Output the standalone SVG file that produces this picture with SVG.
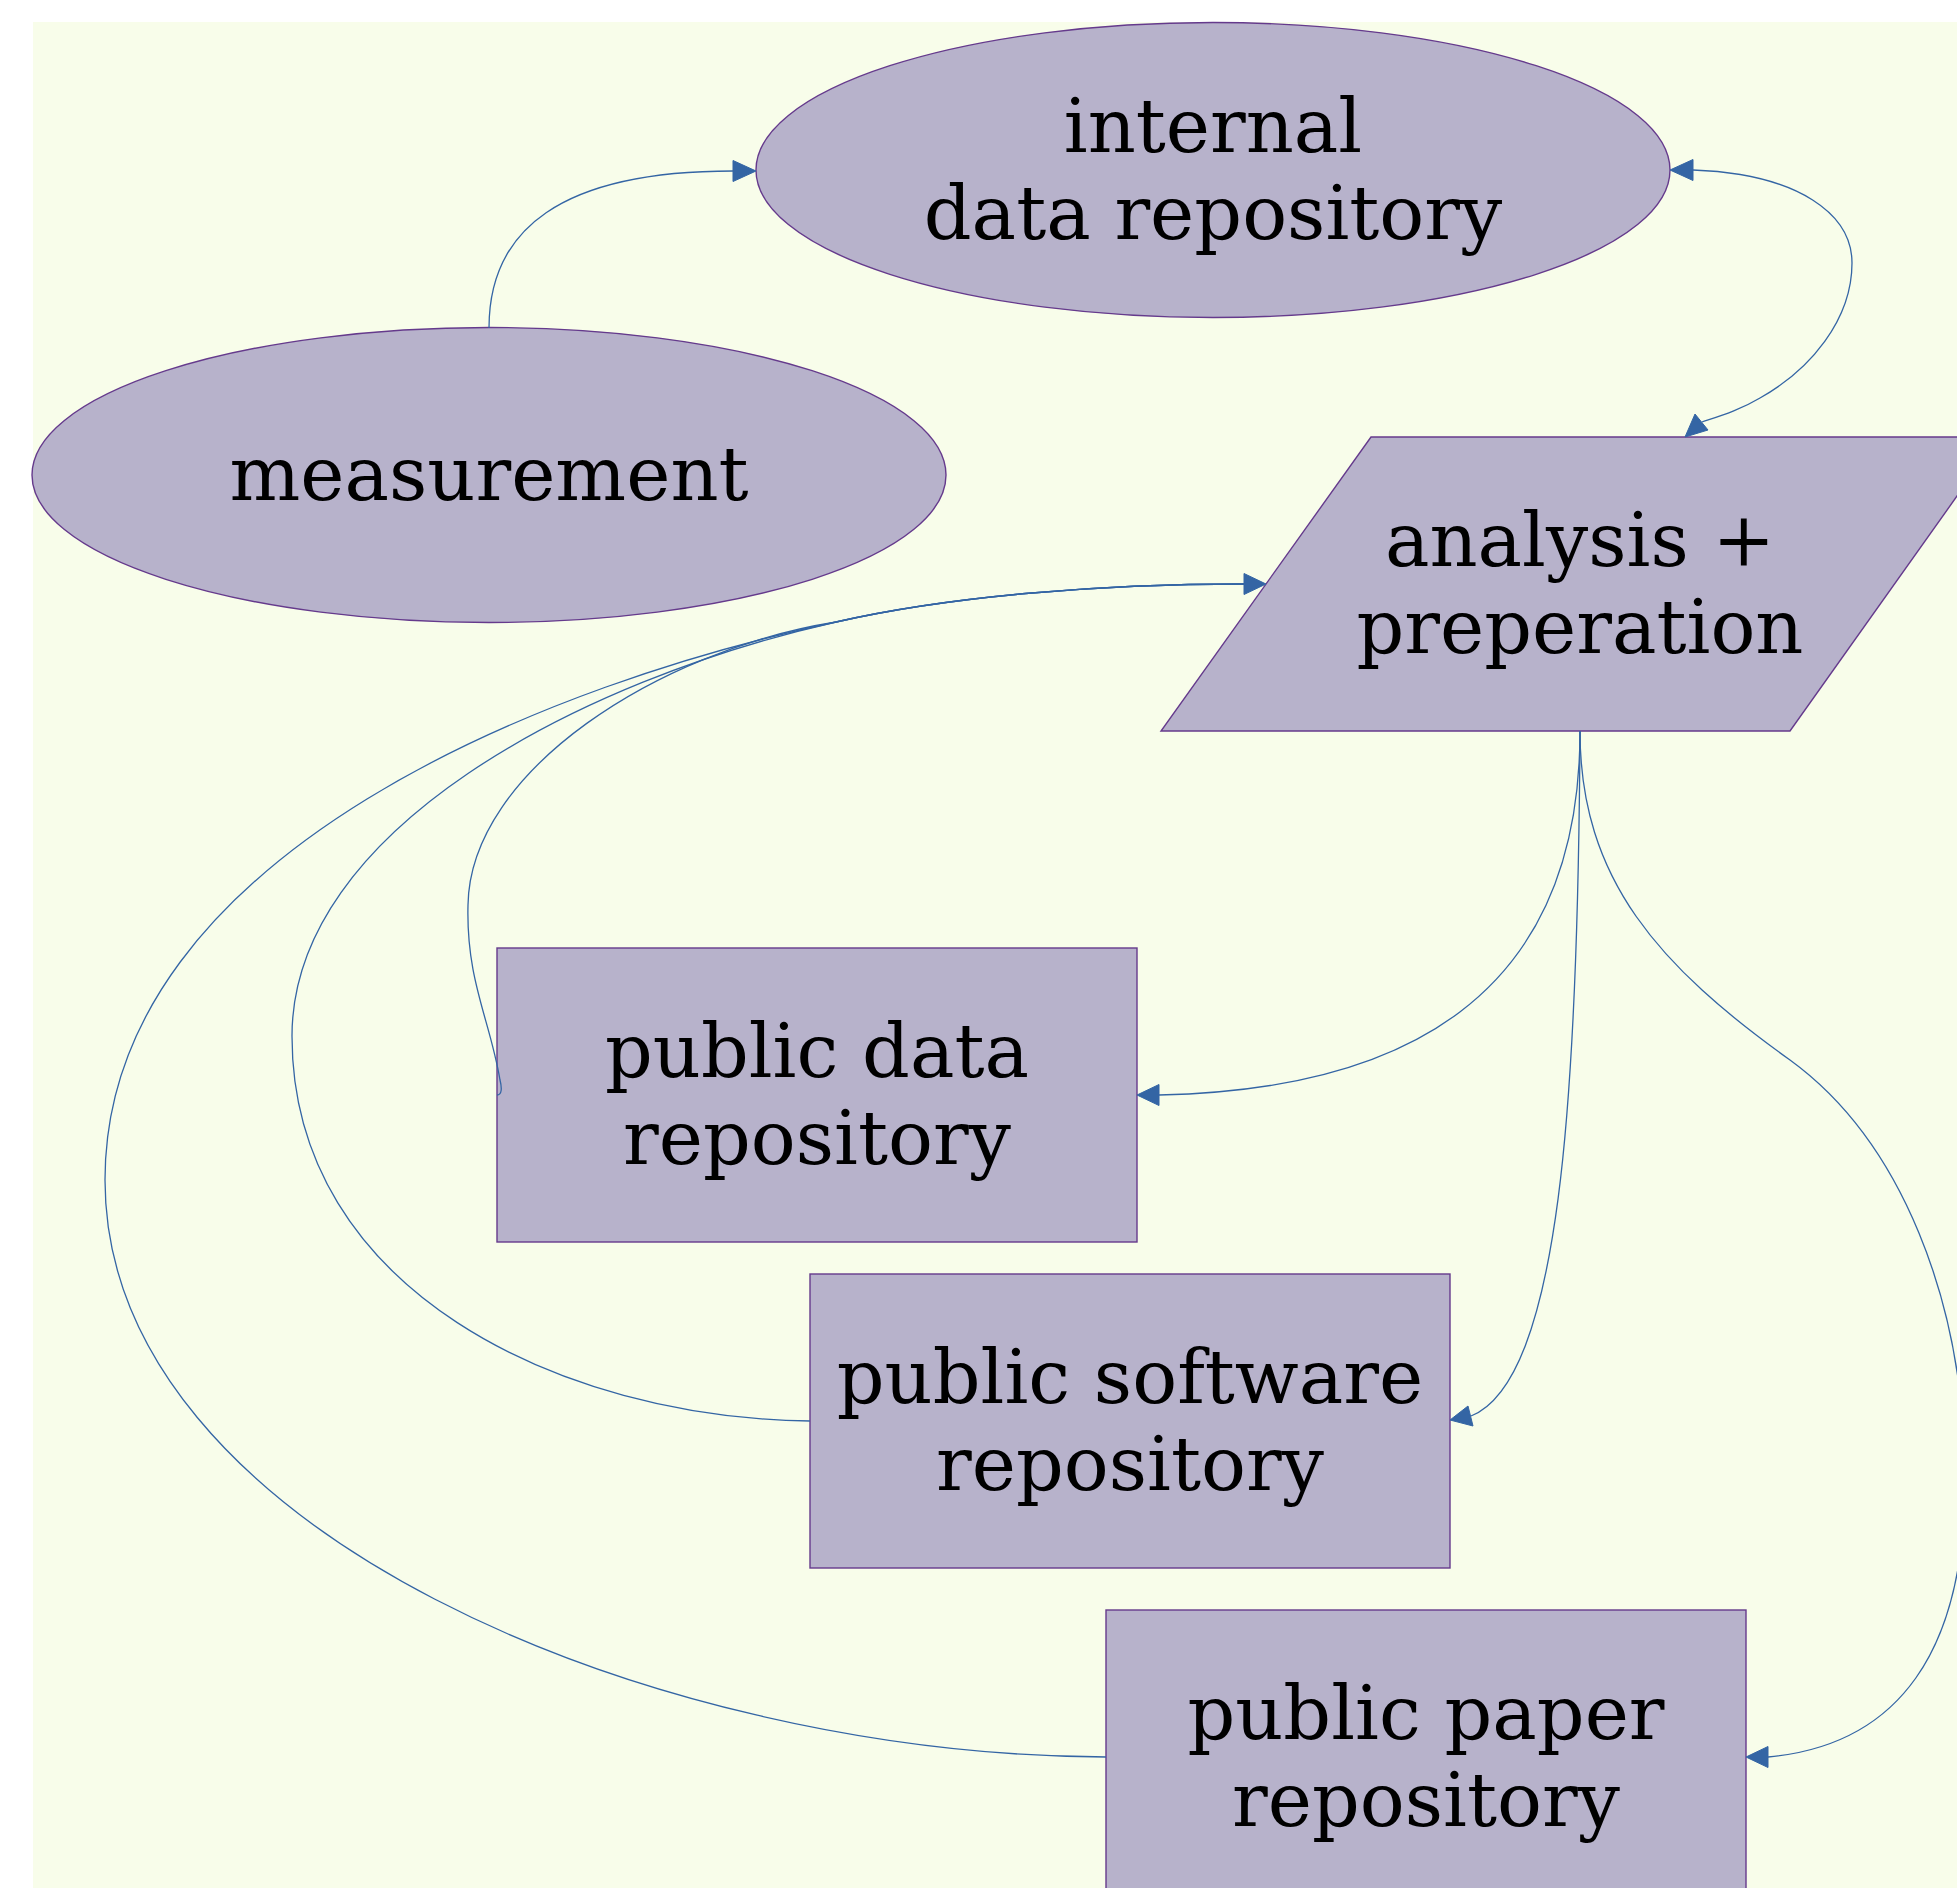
<svg xmlns="http://www.w3.org/2000/svg" width="1957" height="1888" viewBox="0 0 1957 1888">
<style>
.node{fill:#b7b2cb;stroke:#653a8c;stroke-width:1.4}
.lbl{font-family:"DejaVu Serif","Liberation Serif",serif;font-size:74.7px;fill:#000;text-anchor:middle}
.edge{fill:none;stroke:#3465a4;stroke-width:1.3}
.arrow{fill:#3465a4;stroke:#3465a4;stroke-width:1}
</style>
<rect x="0" y="0" width="1957" height="1888" fill="#ffffff"/>
<rect x="33" y="22" width="1930" height="1870" fill="#f8fdea"/>
<g id="internal">
<ellipse class="node" cx="1213" cy="170" rx="457" ry="147.5"/>
<text class="lbl" x="1213" y="152">internal</text>
<text class="lbl" x="1213" y="239">data repository</text>
</g>
<g id="measurement">
<ellipse class="node" cx="489" cy="475" rx="457" ry="147.5"/>
<text class="lbl" x="489" y="500">measurement</text>
</g>
<g id="analysis">
<polygon class="node" points="1371,437 1999,437 1790,731 1161,731"/>
<text class="lbl" x="1580" y="566">analysis +</text>
<text class="lbl" x="1580" y="653">preperation</text>
</g>
<g id="public_data">
<rect class="node" x="497" y="948" width="640" height="294"/>
<text class="lbl" x="817" y="1077">public data</text>
<text class="lbl" x="817" y="1164">repository</text>
</g>
<g id="public_software">
<rect class="node" x="810" y="1274" width="640" height="294"/>
<text class="lbl" x="1130" y="1403">public software</text>
<text class="lbl" x="1130" y="1490">repository</text>
</g>
<g id="public_paper">
<rect class="node" x="1106" y="1610" width="640" height="294"/>
<text class="lbl" x="1426" y="1739">public paper</text>
<text class="lbl" x="1426" y="1826">repository</text>
</g>
<g id="connectors">
<path class="edge" d="M489,328 C489,230 560,171 733,171"/>
<polygon class="arrow" points="733,160.5 756,171 733,181.5"/>
<path class="edge" d="M1693,170 C1800,174 1852,215 1852,263 C1852,320 1810,370 1760,398 C1740,410 1720,416 1702,422"/>
<polygon class="arrow" points="1693,159.5 1670,170 1693,180.5"/>
<polygon class="arrow" points="1685,437 1695,414 1708,430"/>
<path class="edge" d="M497,1095 C502,1095 502,1088 500,1080 C490,1020 466,980 468,905 C470,770 660,650 836,622 C950,596 1100,584 1244,584"/>
<path class="edge" d="M810,1421 C560,1418 292,1290 292,1036 C292,830 580,680 836,622 C950,596 1100,584 1244,584"/>
<path class="edge" d="M1106,1757 C650,1755 105,1530 105,1180 C105,850 560,680 836,622 C950,596 1100,584 1244,584"/>
<polygon class="arrow" points="1244,573.5 1266,584 1244,594.5"/>
<path class="edge" d="M1580,731 C1580,1000 1400,1090 1159,1095"/>
<polygon class="arrow" points="1137,1095 1159,1084.5 1159,1105.5"/>
<path class="edge" d="M1580,731 C1578,1100 1560,1380 1471,1416"/>
<polygon class="arrow" points="1450,1420 1468,1406 1473,1426"/>
<path class="edge" d="M1580,731 C1580,880 1660,967 1790,1060 C1900,1140 1965,1300 1965,1480 C1965,1650 1900,1745 1768,1757"/>
<polygon class="arrow" points="1746,1757 1768,1746.5 1768,1767.5"/>
</g>
</svg>
